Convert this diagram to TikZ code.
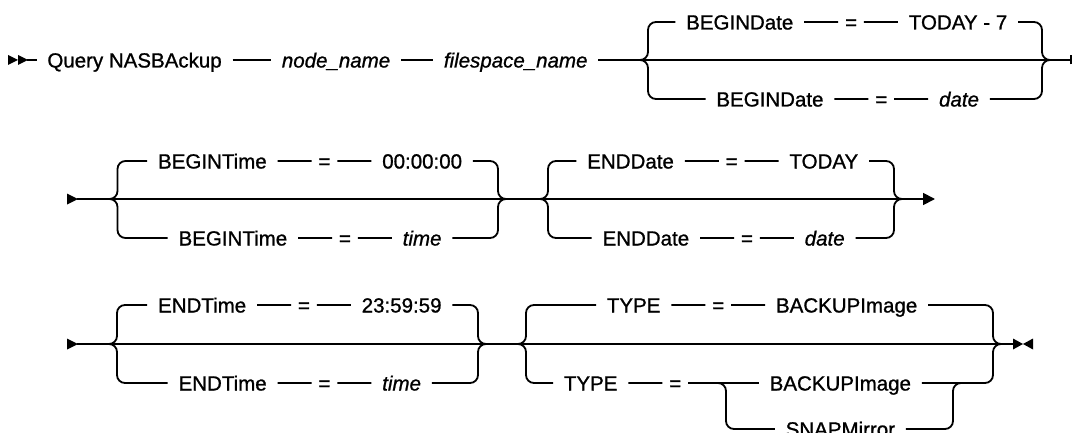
\documentclass[tikz,border=0pt]{standalone}
\usepackage{fontspec}
\setmainfont{Liberation Sans}[FakeBold=1]
\usetikzlibrary{positioning,arrows.meta}
\begin{document}
\begin{tikzpicture}[x=1pt,y=-1pt,line width=1.8pt,node distance=34pt,
  kw/.style={inner xsep=10pt,inner ysep=0pt,text height=15pt,text depth=0pt,
    font=\fontsize{20.5}{24}\selectfont},
  var/.style={kw,font=\fontsize{20.5}{24}\selectfont\itshape},
  eqs/.style={kw,inner xsep=6pt},
  brace/.style={rounded corners=8pt}]
\useasboundingbox (0,0) rectangle (1073,433);
% first line
\fill (8,55) -- (18,60) -- (8,65) -- cycle;
\fill (18,55) -- (28,60) -- (18,65) -- cycle;
\coordinate (st1) at (27,60);
\node[kw,anchor=west] (qry) at (36.5,60) {Query NASBAckup};
\node[var,anchor=west] (nn) at (271,60) {node\_name};
\node[var,anchor=west] (fs) at (433,60) {filespace\_name};
\coordinate (e1) at (1071,60);
\draw (st1) -- (qry) -- (nn) -- (fs) -- (e1);
\draw ([yshift=-4.5pt]e1) -- ([yshift=4.5pt]e1);
\coordinate (g1l) at (640,60); \coordinate (g1lv) at (648,60);
\coordinate (g1rv) at (1042,60); \coordinate (g1r) at (1050,60);
\node[kw,anchor=west] (bd1) at (675.3,22) {BEGINDate};
\node[eqs,right=of bd1] (eq1) {=};
\node[kw,right=of eq1] (td1) {TODAY - 7};
\node[kw,anchor=west] (bd2) at (705.5,99) {BEGINDate};
\node[eqs,right=of bd2] (eq2) {=};
\node[var,right=of eq2] (dt1) {date};
\draw[brace] (g1l) -- (g1lv) |- (bd1) -- (eq1) -- (td1) -| (g1rv) -- (g1r);
\draw[brace] (g1l) -- (g1lv) |- (bd2) -- (eq2) -- (dt1) -| (g1rv) -- (g1r);
% second line
\fill (67,193.5) -- (78,199) -- (67,204.5) -- cycle;
\coordinate (r2s) at (77,199); \coordinate (r2e) at (935,199);
\draw[-{Triangle[length=12pt,width=12pt]}] (r2s) -- (r2e);
\coordinate (g2l) at (108,199); \coordinate (g2lv) at (117.5,199);
\coordinate (g2rv) at (498,199); \coordinate (g2r) at (507,199);
\node[kw,anchor=west] (bt1) at (147.2,161) {BEGINTime};
\node[eqs,right=of bt1] (eq3) {=};
\node[kw,right=of eq3] (zt) {00:00:00};
\node[kw,anchor=west] (bt2) at (167.7,238) {BEGINTime};
\node[eqs,right=of bt2] (eq4) {=};
\node[var,right=of eq4] (tm1) {time};
\draw[brace] (g2l) -- (g2lv) |- (bt1) -- (eq3) -- (zt) -| (g2rv) -- (g2r);
\draw[brace] (g2l) -- (g2lv) |- (bt2) -- (eq4) -- (tm1) -| (g2rv) -- (g2r);
\coordinate (g3l) at (541,199); \coordinate (g3lv) at (548,199);
\coordinate (g3rv) at (894,199); \coordinate (g3r) at (902,199);
\node[kw,anchor=west] (ed1) at (576.4,161) {ENDDate};
\node[eqs,right=of ed1] (eq5) {=};
\node[kw,right=of eq5] (ty1) {TODAY};
\node[kw,anchor=west] (ed2) at (591.7,238) {ENDDate};
\node[eqs,right=of ed2] (eq6) {=};
\node[var,right=of eq6] (dt2) {date};
\draw[brace] (g3l) -- (g3lv) |- (ed1) -- (eq5) -- (ty1) -| (g3rv) -- (g3r);
\draw[brace] (g3l) -- (g3lv) |- (ed2) -- (eq6) -- (dt2) -| (g3rv) -- (g3r);
% third line
\fill (67,338.5) -- (78,344) -- (67,349.5) -- cycle;
\coordinate (r3s) at (77,344); \coordinate (r3e) at (1013,344);
\draw (r3s) -- (r3e);
\fill (r3e) ++(0,-5.5) -- ++(10,5.5) -- ++(-10,5.5) -- cycle;
\fill (r3e) ++(20,-5.5) -- ++(-10,5.5) -- ++(10,5.5) -- cycle;
\coordinate (g4l) at (108,344); \coordinate (g4lv) at (117,344);
\coordinate (g4rv) at (478,344); \coordinate (g4r) at (485,344);
\node[kw,anchor=west] (et1) at (147.2,305) {ENDTime};
\node[eqs,right=of et1] (eq7) {=};
\node[kw,right=of eq7] (lt) {23:59:59};
\node[kw,anchor=west] (et2) at (167.7,383) {ENDTime};
\node[eqs,right=of et2] (eq8) {=};
\node[var,right=of eq8] (tm2) {time};
\draw[brace] (g4l) -- (g4lv) |- (et1) -- (eq7) -- (lt) -| (g4rv) -- (g4r);
\draw[brace] (g4l) -- (g4lv) |- (et2) -- (eq8) -- (tm2) -| (g4rv) -- (g4r);
\coordinate (g5l) at (519,344); \coordinate (g5lv) at (526,344);
\coordinate (g5rv) at (993,344); \coordinate (g5r) at (1000,344);
\node[kw,anchor=west] (tp1) at (596,305) {TYPE};
\node[eqs,right=of tp1] (eq9) {=};
\node[kw,right=of eq9] (bk1) {BACKUPImage};
\node[kw,anchor=west] (tp2) at (553,383) {TYPE};
\node[eqs,right=of tp2] (eq10) {=};
\node[kw,anchor=west] (bk2) at (758.8,383) {BACKUPImage};
\node[kw,anchor=west] (sm) at (774.8,429) {SNAPMirror};
\draw[brace] (g5l) -- (g5lv) |- (tp1) -- (eq9) -- (bk1) -| (g5rv) -- (g5r);
\draw[brace] (g5l) -- (g5lv) |- (tp2) -- (eq10) -- (bk2) -| (g5rv) -- (g5r);
\coordinate (il) at (718,383); \coordinate (ilv) at (726,383);
\coordinate (irv) at (953,383); \coordinate (ir) at (961,383);
\draw[brace] (il) -- (ilv) |- (sm) -| (irv) -- (ir);
\end{tikzpicture}
\end{document}
